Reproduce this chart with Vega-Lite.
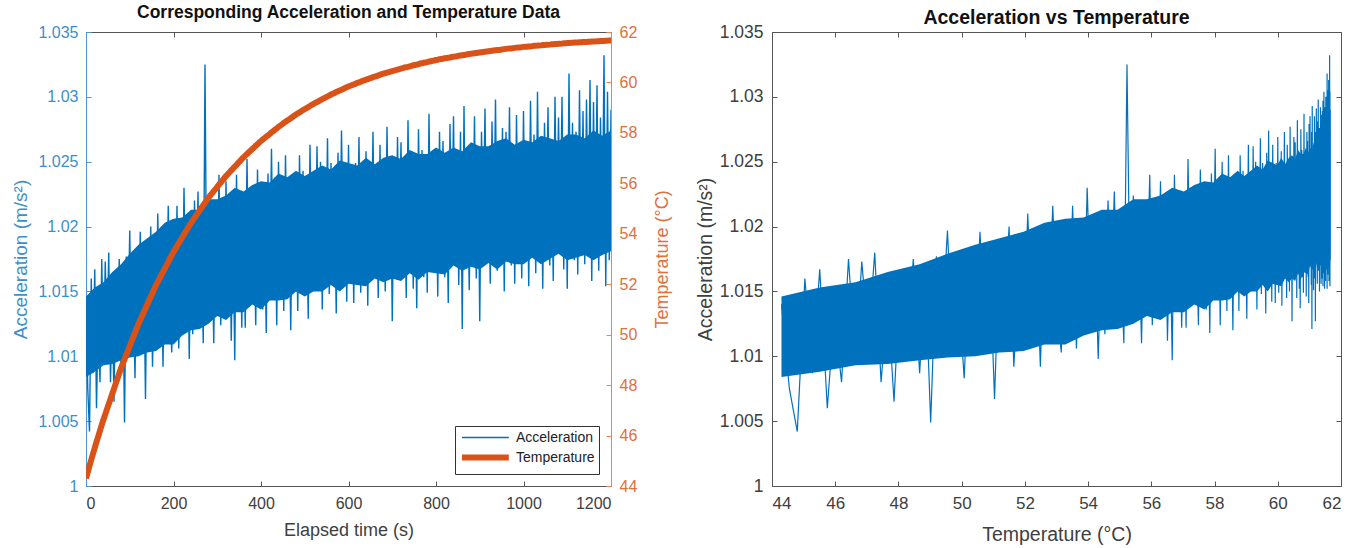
{
  "$schema": "https://vega.github.io/schema/vega-lite/v6.json",
  "padding": {"left": 11, "top": 3, "right": 5, "bottom": 2},
  "spacing": 21,
  "config": {
    "font": "Liberation Sans",
    "view": {"stroke": "#555555", "strokeWidth": 1},
    "axis": {"grid": false, "zindex": 1, "tickSize": -5, "labelPadding": 14, "labelFontSize": 16, "titleFontSize": 18, "titleFontWeight": "normal", "domainColor": "#555555", "tickColor": "#555555", "labelColor": "#404040", "titleColor": "#404040"},
    "legend": {"title": null}
  },
  "datasets": {
    "band": [
      {"t":0,"T":44.30,"lo":1.0084,"hi":1.0146},{"t":20,"T":45.51,"lo":1.0088,"hi":1.0153},{"t":40,"T":46.64,"lo":1.0093,"hi":1.0157},{"t":60,"T":47.66,"lo":1.0094,"hi":1.0165},{"t":80,"T":48.67,"lo":1.0097,"hi":1.0171},
      {"t":100,"T":49.55,"lo":1.0099,"hi":1.0179},{"t":120,"T":50.43,"lo":1.0100,"hi":1.0186},{"t":140,"T":51.20,"lo":1.0103,"hi":1.0191},{"t":160,"T":51.96,"lo":1.0104,"hi":1.0196},{"t":180,"T":52.62,"lo":1.0109,"hi":1.0203},
      {"t":200,"T":53.28,"lo":1.0109,"hi":1.0206},{"t":220,"T":53.86,"lo":1.0116,"hi":1.0207},{"t":240,"T":54.43,"lo":1.0120,"hi":1.0213},{"t":260,"T":54.93,"lo":1.0121,"hi":1.0213},{"t":280,"T":55.43,"lo":1.0125,"hi":1.0221},
      {"t":300,"T":55.86,"lo":1.0131,"hi":1.0221},{"t":320,"T":56.29,"lo":1.0128,"hi":1.0224},{"t":340,"T":56.66,"lo":1.0134,"hi":1.0230},{"t":360,"T":57.03,"lo":1.0134,"hi":1.0227},{"t":380,"T":57.36,"lo":1.0140,"hi":1.0232},
      {"t":400,"T":57.68,"lo":1.0136,"hi":1.0235},{"t":420,"T":57.96,"lo":1.0143,"hi":1.0234},{"t":440,"T":58.24,"lo":1.0143,"hi":1.0241},{"t":460,"T":58.49,"lo":1.0144,"hi":1.0238},{"t":480,"T":58.73,"lo":1.0150,"hi":1.0243},
      {"t":500,"T":58.94,"lo":1.0146,"hi":1.0239},{"t":520,"T":59.15,"lo":1.0150,"hi":1.0243},{"t":540,"T":59.34,"lo":1.0150,"hi":1.0247},{"t":560,"T":59.52,"lo":1.0155,"hi":1.0244},{"t":580,"T":59.68,"lo":1.0150,"hi":1.0251},
      {"t":600,"T":59.84,"lo":1.0156,"hi":1.0249},{"t":620,"T":59.98,"lo":1.0155,"hi":1.0247},{"t":640,"T":60.11,"lo":1.0154,"hi":1.0253},{"t":660,"T":60.23,"lo":1.0160,"hi":1.0248},{"t":680,"T":60.35,"lo":1.0157,"hi":1.0253},
      {"t":700,"T":60.45,"lo":1.0160,"hi":1.0255},{"t":720,"T":60.55,"lo":1.0158,"hi":1.0252},{"t":740,"T":60.64,"lo":1.0164,"hi":1.0259},{"t":760,"T":60.73,"lo":1.0159,"hi":1.0256},{"t":780,"T":60.81,"lo":1.0165,"hi":1.0256},
      {"t":800,"T":60.89,"lo":1.0164,"hi":1.0261},{"t":820,"T":60.96,"lo":1.0163,"hi":1.0257},{"t":840,"T":61.02,"lo":1.0170,"hi":1.0261},{"t":860,"T":61.08,"lo":1.0166,"hi":1.0258},{"t":880,"T":61.14,"lo":1.0169,"hi":1.0265},
      {"t":900,"T":61.19,"lo":1.0167,"hi":1.0262},{"t":920,"T":61.24,"lo":1.0172,"hi":1.0262},{"t":940,"T":61.29,"lo":1.0167,"hi":1.0266},{"t":960,"T":61.33,"lo":1.0173,"hi":1.0268},{"t":980,"T":61.37,"lo":1.0171,"hi":1.0263},
      {"t":1000,"T":61.41,"lo":1.0171,"hi":1.0267},{"t":1020,"T":61.44,"lo":1.0176,"hi":1.0265},{"t":1040,"T":61.47,"lo":1.0171,"hi":1.0270},{"t":1060,"T":61.50,"lo":1.0175,"hi":1.0268},{"t":1080,"T":61.53,"lo":1.0179,"hi":1.0266},
      {"t":1100,"T":61.56,"lo":1.0174,"hi":1.0271},{"t":1120,"T":61.58,"lo":1.0176,"hi":1.0271},{"t":1140,"T":61.60,"lo":1.0178,"hi":1.0268},{"t":1160,"T":61.62,"lo":1.0174,"hi":1.0274},{"t":1180,"T":61.64,"lo":1.0178,"hi":1.0270},
      {"t":1200,"T":61.66,"lo":1.0181,"hi":1.0274}
    ],
    "acc": [
    {"t":0,"T":44.30,"a":1.0140},{"t":4,"T":44.55,"a":1.0075},{"t":8,"T":44.80,"a":1.0042},{"t":12,"T":45.04,"a":1.0160},{"t":16,"T":45.28,"a":1.0087},{"t":20,"T":45.51,"a":1.0167},{"t":24,"T":45.75,"a":1.0060},{"t":28,"T":45.97,"a":1.0133},{"t":32,"T":46.20,"a":1.0080},{"t":36,"T":46.42,"a":1.0175},
    {"t":40,"T":46.64,"a":1.0095},{"t":44,"T":46.84,"a":1.0173},{"t":48,"T":47.05,"a":1.0113},{"t":52,"T":47.25,"a":1.0180},{"t":56,"T":47.45,"a":1.0080},{"t":60,"T":47.66,"a":1.0145},{"t":64,"T":47.86,"a":1.0065},{"t":68,"T":48.06,"a":1.0163},{"t":72,"T":48.26,"a":1.0103},{"t":76,"T":48.47,"a":1.0175},
    {"t":80,"T":48.67,"a":1.0087},{"t":84,"T":48.85,"a":1.0163},{"t":88,"T":49.02,"a":1.0049},{"t":92,"T":49.20,"a":1.0177},{"t":96,"T":49.37,"a":1.0117},{"t":100,"T":49.55,"a":1.0197},{"t":104,"T":49.73,"a":1.0100},{"t":108,"T":49.90,"a":1.0150},{"t":112,"T":50.08,"a":1.0083},{"t":116,"T":50.25,"a":1.0182},
    {"t":120,"T":50.43,"a":1.0117},{"t":124,"T":50.58,"a":1.0196},{"t":128,"T":50.74,"a":1.0102},{"t":132,"T":50.89,"a":1.0172},{"t":136,"T":51.04,"a":1.0067},{"t":140,"T":51.20,"a":1.0187},{"t":144,"T":51.35,"a":1.0127},{"t":148,"T":51.50,"a":1.0200},{"t":152,"T":51.65,"a":1.0092},{"t":156,"T":51.81,"a":1.0164},
    {"t":160,"T":51.96,"a":1.0108},{"t":164,"T":52.09,"a":1.0210},{"t":168,"T":52.22,"a":1.0130},{"t":172,"T":52.36,"a":1.0185},{"t":176,"T":52.49,"a":1.0092},{"t":180,"T":52.62,"a":1.0198},{"t":184,"T":52.75,"a":1.0120},{"t":188,"T":52.88,"a":1.0216},{"t":192,"T":53.02,"a":1.0138},{"t":196,"T":53.15,"a":1.0103},
    {"t":200,"T":53.28,"a":1.0198},{"t":204,"T":53.40,"a":1.0133},{"t":208,"T":53.51,"a":1.0216},{"t":212,"T":53.63,"a":1.0106},{"t":216,"T":53.74,"a":1.0176},{"t":220,"T":53.86,"a":1.0120},{"t":224,"T":53.97,"a":1.0230},{"t":228,"T":54.09,"a":1.0138},{"t":232,"T":54.20,"a":1.0202},{"t":236,"T":54.32,"a":1.0098},
    {"t":240,"T":54.43,"a":1.0195},{"t":244,"T":54.53,"a":1.0117},{"t":248,"T":54.63,"a":1.0220},{"t":252,"T":54.73,"a":1.0150},{"t":256,"T":54.83,"a":1.0227},{"t":260,"T":54.93,"a":1.0123},{"t":264,"T":55.03,"a":1.0185},{"t":268,"T":55.13,"a":1.0110},{"t":272,"T":55.23,"a":1.0325},{"t":276,"T":55.33,"a":1.0135},
    {"t":280,"T":55.43,"a":1.0224},{"t":284,"T":55.52,"a":1.0137},{"t":288,"T":55.60,"a":1.0197},{"t":292,"T":55.69,"a":1.0110},{"t":296,"T":55.77,"a":1.0217},{"t":300,"T":55.86,"a":1.0152},{"t":304,"T":55.95,"a":1.0240},{"t":308,"T":56.03,"a":1.0124},{"t":312,"T":56.12,"a":1.0187},{"t":316,"T":56.20,"a":1.0132},
    {"t":320,"T":56.29,"a":1.0235},{"t":324,"T":56.36,"a":1.0149},{"t":328,"T":56.44,"a":1.0217},{"t":332,"T":56.51,"a":1.0112},{"t":336,"T":56.59,"a":1.0199},{"t":340,"T":56.66,"a":1.0097},{"t":344,"T":56.73,"a":1.0240},{"t":348,"T":56.81,"a":1.0159},{"t":352,"T":56.88,"a":1.0227},{"t":356,"T":56.96,"a":1.0122},
    {"t":360,"T":57.03,"a":1.0217},{"t":364,"T":57.10,"a":1.0122},{"t":368,"T":57.16,"a":1.0252},{"t":372,"T":57.23,"a":1.0160},{"t":376,"T":57.29,"a":1.0230},{"t":380,"T":57.36,"a":1.0142},{"t":384,"T":57.42,"a":1.0194},{"t":388,"T":57.49,"a":1.0124},{"t":392,"T":57.55,"a":1.0244},{"t":396,"T":57.62,"a":1.0152},
    {"t":400,"T":57.68,"a":1.0231},{"t":404,"T":57.74,"a":1.0136},{"t":408,"T":57.79,"a":1.0206},{"t":412,"T":57.85,"a":1.0118},{"t":416,"T":57.90,"a":1.0241},{"t":420,"T":57.96,"a":1.0161},{"t":424,"T":58.02,"a":1.0260},{"t":428,"T":58.07,"a":1.0148},{"t":432,"T":58.13,"a":1.0216},{"t":436,"T":58.18,"a":1.0124},
    {"t":440,"T":58.24,"a":1.0250},{"t":444,"T":58.29,"a":1.0172},{"t":448,"T":58.34,"a":1.0232},{"t":452,"T":58.39,"a":1.0135},{"t":456,"T":58.44,"a":1.0255},{"t":460,"T":58.49,"a":1.0157},{"t":464,"T":58.53,"a":1.0215},{"t":468,"T":58.58,"a":1.0120},{"t":472,"T":58.63,"a":1.0238},{"t":476,"T":58.68,"a":1.0175},
    {"t":480,"T":58.73,"a":1.0231},{"t":484,"T":58.77,"a":1.0135},{"t":488,"T":58.81,"a":1.0255},{"t":492,"T":58.86,"a":1.0165},{"t":496,"T":58.90,"a":1.0243},{"t":500,"T":58.94,"a":1.0148},{"t":504,"T":58.98,"a":1.0208},{"t":508,"T":59.02,"a":1.0129},{"t":512,"T":59.07,"a":1.0263},{"t":516,"T":59.11,"a":1.0158},
    {"t":520,"T":59.15,"a":1.0224},{"t":524,"T":59.19,"a":1.0154},{"t":528,"T":59.22,"a":1.0262},{"t":532,"T":59.26,"a":1.0176},{"t":536,"T":59.30,"a":1.0250},{"t":540,"T":59.34,"a":1.0136},{"t":544,"T":59.37,"a":1.0231},{"t":548,"T":59.41,"a":1.0171},{"t":552,"T":59.45,"a":1.0268},{"t":556,"T":59.48,"a":1.0148},
    {"t":560,"T":59.52,"a":1.0249},{"t":564,"T":59.55,"a":1.0169},{"t":568,"T":59.58,"a":1.0219},{"t":572,"T":59.62,"a":1.0133},{"t":576,"T":59.65,"a":1.0257},{"t":580,"T":59.68,"a":1.0161},{"t":584,"T":59.71,"a":1.0274},{"t":588,"T":59.74,"a":1.0181},{"t":592,"T":59.78,"a":1.0239},{"t":596,"T":59.81,"a":1.0142},
    {"t":600,"T":59.84,"a":1.0263},{"t":604,"T":59.87,"a":1.0156},{"t":608,"T":59.89,"a":1.0231},{"t":612,"T":59.92,"a":1.0141},{"t":616,"T":59.95,"a":1.0249},{"t":620,"T":59.98,"a":1.0179},{"t":624,"T":60.00,"a":1.0269},{"t":628,"T":60.03,"a":1.0149},{"t":632,"T":60.06,"a":1.0226},{"t":636,"T":60.08,"a":1.0166},
    {"t":640,"T":60.11,"a":1.0258},{"t":644,"T":60.13,"a":1.0139},{"t":648,"T":60.16,"a":1.0243},{"t":652,"T":60.18,"a":1.0183},{"t":656,"T":60.21,"a":1.0273},{"t":660,"T":60.23,"a":1.0161},{"t":664,"T":60.25,"a":1.0221},{"t":668,"T":60.28,"a":1.0145},{"t":672,"T":60.30,"a":1.0263},{"t":676,"T":60.33,"a":1.0173},
    {"t":680,"T":60.35,"a":1.0240},{"t":684,"T":60.37,"a":1.0150},{"t":688,"T":60.39,"a":1.0277},{"t":692,"T":60.41,"a":1.0180},{"t":696,"T":60.43,"a":1.0253},{"t":700,"T":60.45,"a":1.0127},{"t":704,"T":60.47,"a":1.0235},{"t":708,"T":60.49,"a":1.0165},{"t":712,"T":60.51,"a":1.0269},{"t":716,"T":60.53,"a":1.0190},
    {"t":720,"T":60.55,"a":1.0265},{"t":724,"T":60.57,"a":1.0172},{"t":728,"T":60.59,"a":1.0227},{"t":732,"T":60.60,"a":1.0145},{"t":736,"T":60.62,"a":1.0282},{"t":740,"T":60.64,"a":1.0177},{"t":744,"T":60.66,"a":1.0252},{"t":748,"T":60.68,"a":1.0152},{"t":752,"T":60.69,"a":1.0235},{"t":756,"T":60.71,"a":1.0137},
    {"t":760,"T":60.73,"a":1.0275},{"t":764,"T":60.75,"a":1.0187},{"t":768,"T":60.76,"a":1.0259},{"t":772,"T":60.78,"a":1.0161},{"t":776,"T":60.79,"a":1.0241},{"t":780,"T":60.81,"a":1.0149},{"t":784,"T":60.83,"a":1.0287},{"t":788,"T":60.84,"a":1.0171},{"t":792,"T":60.86,"a":1.0251},{"t":796,"T":60.87,"a":1.0184},
    {"t":800,"T":60.89,"a":1.0251},{"t":804,"T":60.90,"a":1.0146},{"t":808,"T":60.92,"a":1.0273},{"t":812,"T":60.93,"a":1.0193},{"t":816,"T":60.94,"a":1.0266},{"t":820,"T":60.96,"a":1.0161},{"t":824,"T":60.97,"a":1.0236},{"t":828,"T":60.98,"a":1.0141},{"t":832,"T":60.99,"a":1.0279},{"t":836,"T":61.01,"a":1.0179},
    {"t":840,"T":61.02,"a":1.0285},{"t":844,"T":61.03,"a":1.0173},{"t":848,"T":61.04,"a":1.0248},{"t":852,"T":61.06,"a":1.0155},{"t":856,"T":61.07,"a":1.0273},{"t":860,"T":61.08,"a":1.0121},{"t":864,"T":61.09,"a":1.0293},{"t":868,"T":61.10,"a":1.0168},{"t":872,"T":61.12,"a":1.0235},{"t":876,"T":61.13,"a":1.0151},
    {"t":880,"T":61.14,"a":1.0263},{"t":884,"T":61.15,"a":1.0185},{"t":888,"T":61.16,"a":1.0285},{"t":892,"T":61.17,"a":1.0160},{"t":896,"T":61.18,"a":1.0253},{"t":900,"T":61.19,"a":1.0127},{"t":904,"T":61.20,"a":1.0273},{"t":908,"T":61.21,"a":1.0195},{"t":912,"T":61.22,"a":1.0291},{"t":916,"T":61.23,"a":1.0173},
    {"t":920,"T":61.24,"a":1.0246},{"t":924,"T":61.25,"a":1.0156},{"t":928,"T":61.26,"a":1.0281},{"t":932,"T":61.27,"a":1.0181},{"t":936,"T":61.28,"a":1.0298},{"t":940,"T":61.29,"a":1.0166},{"t":944,"T":61.29,"a":1.0261},{"t":948,"T":61.30,"a":1.0194},{"t":952,"T":61.31,"a":1.0276},{"t":956,"T":61.32,"a":1.0150},
    {"t":960,"T":61.33,"a":1.0273},{"t":964,"T":61.34,"a":1.0190},{"t":968,"T":61.35,"a":1.0292},{"t":972,"T":61.35,"a":1.0170},{"t":976,"T":61.36,"a":1.0258},{"t":980,"T":61.37,"a":1.0156},{"t":984,"T":61.38,"a":1.0286},{"t":988,"T":61.39,"a":1.0183},{"t":992,"T":61.39,"a":1.0243},{"t":996,"T":61.40,"a":1.0160},
    {"t":1000,"T":61.41,"a":1.0289},{"t":1004,"T":61.42,"a":1.0174},{"t":1008,"T":61.42,"a":1.0251},{"t":1012,"T":61.43,"a":1.0154},{"t":1016,"T":61.43,"a":1.0297},{"t":1020,"T":61.44,"a":1.0189},{"t":1024,"T":61.45,"a":1.0271},{"t":1028,"T":61.45,"a":1.0164},{"t":1032,"T":61.46,"a":1.0304},{"t":1036,"T":61.46,"a":1.0179},
    {"t":1040,"T":61.47,"a":1.0265},{"t":1044,"T":61.48,"a":1.0152},{"t":1048,"T":61.48,"a":1.0280},{"t":1052,"T":61.49,"a":1.0195},{"t":1056,"T":61.49,"a":1.0292},{"t":1060,"T":61.50,"a":1.0170},{"t":1064,"T":61.51,"a":1.0258},{"t":1068,"T":61.51,"a":1.0158},{"t":1072,"T":61.52,"a":1.0300},{"t":1076,"T":61.52,"a":1.0185},
    {"t":1080,"T":61.53,"a":1.0284},{"t":1084,"T":61.53,"a":1.0192},{"t":1088,"T":61.54,"a":1.0300},{"t":1092,"T":61.55,"a":1.0167},{"t":1096,"T":61.55,"a":1.0267},{"t":1100,"T":61.56,"a":1.0152},{"t":1104,"T":61.56,"a":1.0318},{"t":1108,"T":61.57,"a":1.0180},{"t":1112,"T":61.57,"a":1.0280},{"t":1116,"T":61.58,"a":1.0174},
    {"t":1120,"T":61.58,"a":1.0273},{"t":1124,"T":61.58,"a":1.0163},{"t":1128,"T":61.59,"a":1.0305},{"t":1132,"T":61.59,"a":1.0185},{"t":1136,"T":61.60,"a":1.0289},{"t":1140,"T":61.60,"a":1.0171},{"t":1144,"T":61.60,"a":1.0298},{"t":1148,"T":61.61,"a":1.0195},{"t":1152,"T":61.61,"a":1.0313},{"t":1156,"T":61.62,"a":1.0158},
    {"t":1160,"T":61.62,"a":1.0296},{"t":1164,"T":61.62,"a":1.0179},{"t":1168,"T":61.63,"a":1.0309},{"t":1172,"T":61.63,"a":1.0166},{"t":1176,"T":61.64,"a":1.0284},{"t":1180,"T":61.64,"a":1.0189},{"t":1184,"T":61.64,"a":1.0332},{"t":1188,"T":61.65,"a":1.0154},{"t":1192,"T":61.65,"a":1.0304},{"t":1196,"T":61.66,"a":1.0174},
    {"t":1200,"T":61.66,"a":1.0290}
    ]
  },
  "resolve": {"legend": {"color": "independent", "strokeWidth": "independent"}},
  "hconcat": [
    {
      "width": 525,
      "height": 454,
      "title": {"text": "Corresponding Acceleration and Temperature Data", "fontSize": 17.5, "fontWeight": "bold", "color": "#111111", "offset": 3},
      "layer": [
        {
          "data": {"name": "band"},
          "mark": {"type": "area", "clip": true, "color": "#0072BD"},
          "encoding": {
            "x": {"field": "t", "type": "quantitative", "axis": null},
            "y": {"field": "lo", "type": "quantitative", "scale": {"domain": [1, 1.035], "nice": false, "zero": false}, "axis": null},
            "y2": {"field": "hi"}
          }
        },
        {
          "data": {"name": "acc"},
          "mark": {"type": "line", "clip": true},
          "encoding": {
            "x": {"field": "t", "type": "quantitative", "scale": {"domain": [0, 1200], "nice": false, "zero": false},
                  "axis": {"orient": "bottom", "title": "Elapsed time (s)", "values": [0, 200, 400, 600, 800, 1000, 1200], "format": "d", "titlePadding": 10}},
            "y": {"field": "a", "type": "quantitative", "scale": {"domain": [1, 1.035], "nice": false, "zero": false},
                  "axis": {"orient": "left", "title": "Acceleration (m/s²)", "values": [1, 1.005, 1.01, 1.015, 1.02, 1.025, 1.03, 1.035], "format": ".3~f", "labelPadding": 13, "titlePadding": 7, "labelFontSize": 16, "titleFontSize": 19, "domainColor": "#4a9ad0", "tickColor": "#4a9ad0", "labelColor": "#3b8fcb", "titleColor": "#3b8fcb"}},
            "color": {"datum": "Acceleration", "scale": {"domain": ["Acceleration", "Temperature"], "range": ["#0072BD", "#D95319"]},
                      "legend": {"orient": "bottom-right", "offset": 12, "fillColor": "white", "strokeColor": "#333333", "padding": 4, "labelFontSize": 14, "labelColor": "#222222", "symbolType": "M-1,0H6.2", "symbolSize": 169, "rowPadding": 0, "labelOffset": 38}},
            "strokeWidth": {"datum": "Acceleration", "scale": {"domain": ["Acceleration", "Temperature"], "range": [1.4, 6]},
                      "legend": {"orient": "bottom-right", "offset": 12, "fillColor": "white", "strokeColor": "#333333", "padding": 4, "labelFontSize": 14, "labelColor": "#222222", "symbolType": "M-1,0H6.2", "symbolSize": 169, "rowPadding": 0, "labelOffset": 38}}
          }
        },
        {
          "data": {"name": "acc"},
          "mark": {"type": "line", "clip": true},
          "encoding": {
            "x": {"field": "t", "type": "quantitative",
                  "axis": {"orient": "top", "labels": false, "title": null, "domain": false, "values": [0, 200, 400, 600, 800, 1000, 1200]}},
            "y": {"field": "T", "type": "quantitative", "scale": {"domain": [44, 62], "nice": false, "zero": false},
                  "axis": {"orient": "right", "title": "Temperature (°C)", "titleAngle": 270, "titleBaseline": "top", "values": [44, 46, 48, 50, 52, 54, 56, 58, 60, 62], "labelPadding": 13, "titlePadding": 17, "labelFontSize": 16, "titleFontSize": 18, "domainColor": "#e8845a", "tickColor": "#e8845a", "labelColor": "#e0703c", "titleColor": "#e0703c"}},
            "color": {"datum": "Temperature"},
            "strokeWidth": {"datum": "Temperature"}
          }
        }
      ],
      "resolve": {"scale": {"y": "independent"}, "axis": {"x": "independent"}}
    },
    {
      "width": 569,
      "height": 454,
      "title": {"text": "Acceleration vs Temperature", "fontSize": 19.5, "fontWeight": "bold", "color": "#111111", "offset": -5},
      "layer": [
        {
          "data": {"name": "band"},
          "mark": {"type": "area", "clip": true, "color": "#0072BD"},
          "encoding": {
            "x": {"field": "T", "type": "quantitative", "axis": null},
            "y": {"field": "lo", "type": "quantitative", "axis": null},
            "y2": {"field": "hi"}
          }
        },
        {
          "data": {"name": "acc"},
          "mark": {"type": "line", "clip": true, "color": "#0072BD", "strokeWidth": 1.2},
          "encoding": {
            "x": {"field": "T", "type": "quantitative", "scale": {"domain": [44, 62], "nice": false, "zero": false},
                  "axis": {"orient": "bottom", "title": "Temperature (°C)", "values": [44, 46, 48, 50, 52, 54, 56, 58, 60, 62], "titlePadding": 14, "labelFontSize": 17, "titleFontSize": 19.5}},
            "y": {"field": "a", "type": "quantitative", "scale": {"domain": [1, 1.035], "nice": false, "zero": false},
                  "axis": {"orient": "left", "title": "Acceleration (m/s²)", "values": [1, 1.005, 1.01, 1.015, 1.02, 1.025, 1.03, 1.035], "format": ".3~f", "labelFontSize": 17.5, "titleFontSize": 19.5, "labelPadding": 14, "titlePadding": 4}},
            "order": {"field": "t", "type": "quantitative"}
          }
        },
        {
          "data": {"name": "acc"},
          "mark": {"type": "point", "opacity": 0},
          "encoding": {
            "x": {"field": "T", "type": "quantitative", "axis": {"orient": "top", "labels": false, "title": null, "domain": false, "values": [44, 46, 48, 50, 52, 54, 56, 58, 60, 62]}},
            "y": {"field": "a", "type": "quantitative", "axis": {"orient": "right", "labels": false, "title": null, "domain": false, "values": [1, 1.005, 1.01, 1.015, 1.02, 1.025, 1.03, 1.035]}}
          }
        }
      ],
      "resolve": {"axis": {"x": "independent", "y": "independent"}}
    }
  ]
}
